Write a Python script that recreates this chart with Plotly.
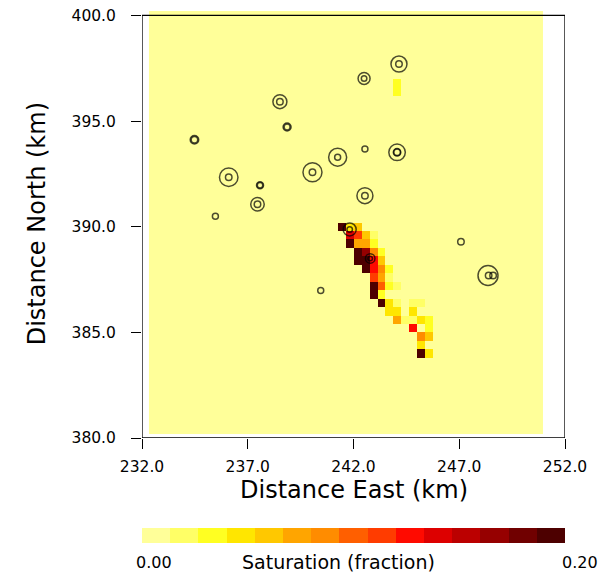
import numpy as np
import plotly.graph_objects as go

# Model grid: south-west corner, cell size (km) and cell counts
GRID_X0, GRID_DX, NX = 232.33, 0.3726, 50
GRID_Y0, GRID_DY, NY = 380.17, 0.4008, 50

# Non-zero saturation cells: column (west -> east), row (north -> south), saturation fraction
cell_col = [31, 31,
            24, 25, 26,
            25, 26, 27, 28,
            25, 26, 27, 28,
            26, 27, 28, 29,
            26, 27, 28, 29,
            27, 28, 29, 30,
            28, 29, 30,
            28, 29, 30, 31,
            28, 29,
            29, 30, 31, 33, 34,
            30, 31, 33,
            31, 32, 33, 34, 35,
            33, 35,
            34, 35,
            34,
            34, 35]
cell_row = [8, 9,
            25, 25, 25,
            26, 26, 26, 26,
            27, 27, 27, 27,
            28, 28, 28, 28,
            29, 29, 29, 29,
            30, 30, 30, 30,
            31, 31, 31,
            32, 32, 32, 32,
            33, 33,
            34, 34, 34, 34, 34,
            35, 35, 35,
            36, 36, 36, 36, 36,
            37, 37,
            38, 38,
            39,
            40, 40]
cell_sat = [0.033, 0.033,
            0.195, 0.047, 0.060,
            0.140, 0.113, 0.060, 0.020,
            0.195, 0.073, 0.073, 0.033,
            0.195, 0.167, 0.087, 0.033,
            0.195, 0.195, 0.127, 0.060,
            0.195, 0.127, 0.087, 0.033,
            0.113, 0.073, 0.020,
            0.195, 0.100, 0.033, 0.020,
            0.195, 0.033,
            0.195, 0.047, 0.020, 0.020, 0.020,
            0.047, 0.047, 0.047,
            0.073, 0.020, 0.020, 0.047, 0.033,
            0.127, 0.033,
            0.087, 0.060,
            0.047,
            0.195, 0.047]

# Well rings (easting, northing in km) and ring diameters
ring_east = [244.15, 244.15, 242.50, 242.50, 238.52, 238.52, 238.86, 238.86,
             234.48, 234.48, 242.54, 244.06, 244.06, 244.06, 241.25, 241.25,
             240.06, 240.06, 236.10, 236.10, 237.58, 237.58, 242.54, 242.54,
             237.46, 237.46, 235.47, 241.82, 241.82, 242.79, 242.79, 240.45,
             247.08, 248.36, 248.39, 248.60]
ring_north = [397.70, 397.70, 397.02, 397.02, 395.92, 395.92, 394.72, 394.72,
              394.12, 394.12, 393.68, 393.52, 393.52, 393.52, 393.29, 393.29,
              392.58, 392.58, 392.34, 392.34, 391.96, 391.96, 391.47, 391.47,
              391.06, 391.06, 390.50, 389.87, 389.87, 388.50, 388.50, 386.98,
              389.29, 387.69, 387.69, 387.69]
ring_size = [16, 6.5, 12, 5.5, 14, 6.5, 8, 6,
             8.5, 6.5, 6, 16.5, 6.5, 7.5, 18, 6,
             19, 6.5, 18.5, 6.5, 7, 5.5, 16, 6.5,
             13.5, 6.5, 6, 13, 5.5, 9.5, 4.5, 6,
             6.5, 20, 6.5, 6.5]

SAT_MIN, SAT_MAX = 0.0, 0.20
level_colors = ["#FFFF99", "#FFFF66", "#FFFF22", "#FFE600", "#FFC800",
                "#FFA500", "#FF8C00", "#FF5F00", "#FF3C00", "#FF0A00",
                "#DD0000", "#BB0000", "#960000", "#700000", "#4D0000"]
x_ticks = [232.0, 237.0, 242.0, 247.0, 252.0]
y_ticks = [380.0, 385.0, 390.0, 395.0, 400.0]

FONT = "DejaVu Sans"

# Saturation field on the model grid (row 0 = south)
sat = np.zeros((NY, NX))
for c, r, s in zip(cell_col, cell_row, cell_sat):
    sat[NY - 1 - r, c] = s

# Stepped colour scale, one flat band per level
n = len(level_colors)
colorscale = []
for k, col in enumerate(level_colors):
    colorscale.append([k / n, col])
    colorscale.append([(k + 1) / n, col])

fig = go.Figure()
fig.add_trace(go.Heatmap(
    z=sat,
    x0=GRID_X0 + GRID_DX / 2, dx=GRID_DX,
    y0=GRID_Y0 + GRID_DY / 2, dy=GRID_DY,
    zmin=SAT_MIN, zmax=SAT_MAX,
    colorscale=colorscale,
    hoverinfo="skip",
    colorbar=dict(
        orientation="h",
        x=0.5, xanchor="center",
        y=-0.2117, yanchor="top",
        len=422.7, lenmode="pixels",
        thickness=15, thicknessmode="pixels",
        outlinewidth=0,
        showticklabels=False, ticks="",
        xpad=0, ypad=0,
    ),
))

fig.add_trace(go.Scatter(
    x=ring_east, y=ring_north, mode="markers",
    marker=dict(symbol="circle-open", size=ring_size, color="black",
                line=dict(width=1.5, color="black")),
    hoverinfo="skip", showlegend=False,
))

axis_common = dict(
    ticks="outside", ticklen=10, tickwidth=1.3, tickcolor="black",
    showgrid=False, zeroline=False, showline=False,
    tickfont=dict(family=FONT, size=15.5, color="black"),
)

fig.update_layout(
    width=607, height=576,
    margin=dict(l=142.3, r=42, t=11, b=137.5, pad=0, autoexpand=False),
    paper_bgcolor="white", plot_bgcolor="white",
    showlegend=False,
    xaxis=dict(range=[232, 252], tickvals=x_ticks,
               ticktext=[f"{v:.1f}" for v in x_ticks],
               ticklabelstandoff=4, **axis_common),
    yaxis=dict(range=[380, 400.21], tickvals=y_ticks,
               ticktext=[f"{v:.1f}" for v in y_ticks],
               ticklabelstandoff=12, **axis_common),
    shapes=[dict(type="rect", xref="x", yref="y", x0=232, x1=252, y0=380, y1=400,
                 line=dict(color="black", width=1.3), layer="above")],
    annotations=[
        dict(text="Distance East (km)", xref="paper", yref="paper",
             x=0.5, y=-0.121, xanchor="center", yanchor="middle", showarrow=False,
             font=dict(family=FONT, size=24, color="black")),
        dict(text="Distance North (km)", xref="paper", yref="paper",
             x=-0.249, y=0.502, xanchor="center", yanchor="middle", textangle=-90,
             showarrow=False, font=dict(family=FONT, size=24, color="black")),
        dict(text="0.00", xref="paper", yref="paper", x=0.0277, y=-0.291,
             xanchor="center", yanchor="middle", showarrow=False,
             font=dict(family=FONT, size=16, color="black")),
        dict(text="0.20", xref="paper", yref="paper", x=1.0356, y=-0.291,
             xanchor="center", yanchor="middle", showarrow=False,
             font=dict(family=FONT, size=16, color="black")),
        dict(text="Saturation (fraction)", xref="paper", yref="paper", x=0.465, y=-0.291,
             xanchor="center", yanchor="middle", showarrow=False,
             font=dict(family=FONT, size=19, color="black")),
    ],
)

fig.write_html("out.html")
